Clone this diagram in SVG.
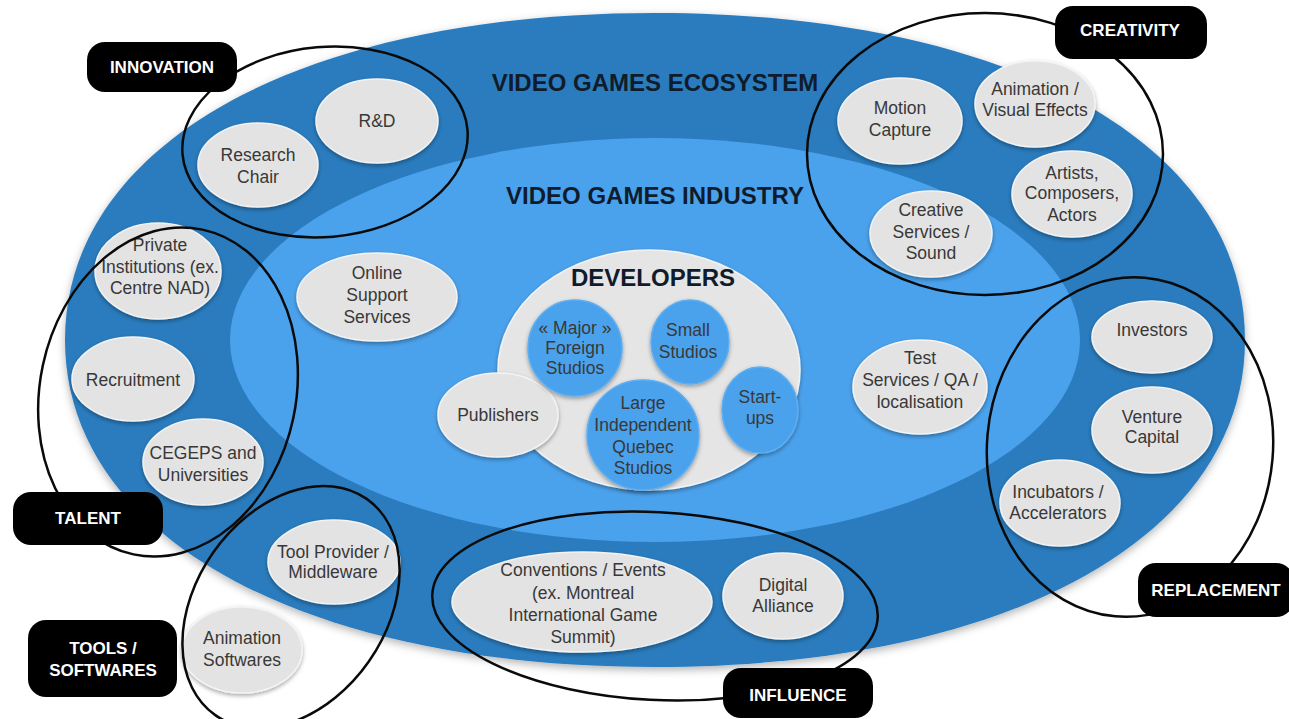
<svg xmlns="http://www.w3.org/2000/svg" width="1289" height="719" viewBox="0 0 1289 719">
<defs>
<filter id="sh" x="-20%" y="-20%" width="140%" height="150%"><feDropShadow dx="0" dy="2" stdDeviation="2" flood-color="#000" flood-opacity="0.35"/></filter>
<filter id="soft" x="-5%" y="-5%" width="110%" height="115%"><feDropShadow dx="0" dy="3" stdDeviation="4" flood-color="#000" flood-opacity="0.3"/></filter>
</defs>
<style>
.n{fill:#e3e3e3;stroke:#f3f3f3;stroke-width:1.5;filter:url(#sh)}
.b{fill:#4ba2ec;stroke:#5daef2;stroke-width:1.5;filter:url(#sh)}
.t{font-family:"Liberation Sans",Arial,sans-serif;font-size:17.5px;fill:#383838;text-anchor:middle}
.h{font-family:"Liberation Sans",Arial,sans-serif;font-weight:bold;font-size:24px;fill:#101c2c;text-anchor:middle}
.o{fill:none;stroke:#0a0a0a;stroke-width:2.5}
.lb{fill:#000}
.lt{font-family:"Liberation Sans",Arial,sans-serif;font-weight:bold;font-size:17px;fill:#fff;text-anchor:middle}
</style>
<rect width="1289" height="719" fill="#fff"/>

<g id="ecosystem">
<path d="M 1245,340 C 1245,536 1009,667 655,667 C 301,667 65,536 65,340 C 65,144 301,13 655,13 C 1009,13 1245,144 1245,340 Z" fill="#2b7cbe" filter="url(#soft)"/>
<text class="h" x="655" y="91">VIDEO GAMES ECOSYSTEM</text>
</g>
<g id="industry">
<ellipse cx="655" cy="340" rx="425" ry="202" fill="#4ba2ec"/>
<text class="h" x="655" y="204">VIDEO GAMES INDUSTRY</text>
</g>
<g id="developers">
<ellipse cx="649" cy="370" rx="151" ry="120" fill="#e5e5e5" stroke="#f3f3f3" stroke-width="1.5" filter="url(#sh)"/>
<text class="h" x="653" y="286">DEVELOPERS</text>
</g>

<g id="publishers"><ellipse class="n" cx="498" cy="415" rx="60" ry="42"/><text class="t" x="498" y="421">Publishers</text></g>
<g id="major-foreign"><ellipse class="b" cx="575" cy="348" rx="47" ry="48"/><text class="t" x="575" y="334">« Major »</text><text class="t" x="575" y="354">Foreign</text><text class="t" x="575" y="374">Studios</text></g>
<g id="small-studios"><ellipse class="b" cx="690" cy="342" rx="39" ry="42"/><text class="t" x="688" y="336">Small</text><text class="t" x="688" y="358">Studios</text></g>
<g id="large-independent"><ellipse class="b" cx="643" cy="435" rx="56" ry="55"/><text class="t" x="643" y="409">Large</text><text class="t" x="643" y="431">Independent</text><text class="t" x="643" y="453">Quebec</text><text class="t" x="643" y="474">Studios</text></g>
<g id="start-ups"><ellipse class="b" cx="760" cy="410" rx="38" ry="43"/><text class="t" x="760" y="403">Start-</text><text class="t" x="760" y="424">ups</text></g>

<g id="online-support"><ellipse class="n" cx="377" cy="297" rx="80" ry="44"/><text class="t" x="377" y="279">Online</text><text class="t" x="377" y="301">Support</text><text class="t" x="377" y="323">Services</text></g>
<g id="test-services"><ellipse class="n" cx="920" cy="387" rx="67" ry="47"/><text class="t" x="920" y="364">Test</text><text class="t" x="920" y="386">Services / QA /</text><text class="t" x="920" y="408">localisation</text></g>

<g id="rd"><ellipse class="n" cx="377" cy="121" rx="61" ry="42"/><text class="t" x="377" y="127">R&amp;D</text></g>
<g id="research-chair"><ellipse class="n" cx="258" cy="165" rx="60" ry="42"/><text class="t" x="258" y="161">Research</text><text class="t" x="258" y="183">Chair</text></g>
<g id="private-institutions"><ellipse class="n" cx="158" cy="271" rx="63" ry="48"/><text class="t" x="160" y="251">Private</text><text class="t" x="160" y="273">Institutions (ex.</text><text class="t" x="160" y="294">Centre NAD)</text></g>
<g id="recruitment"><ellipse class="n" cx="133" cy="379" rx="61" ry="42"/><text class="t" x="133" y="386">Recruitment</text></g>
<g id="cegeps"><ellipse class="n" cx="203" cy="462" rx="60" ry="43"/><text class="t" x="203" y="459">CEGEPS and</text><text class="t" x="203" y="481">Universities</text></g>
<g id="tool-provider"><ellipse class="n" cx="334" cy="562" rx="66" ry="42"/><text class="t" x="333" y="558">Tool Provider /</text><text class="t" x="333" y="578">Middleware</text></g>
<g id="animation-softwares"><ellipse class="n" cx="242" cy="650" rx="60" ry="43"/><text class="t" x="242" y="644">Animation</text><text class="t" x="242" y="666">Softwares</text></g>
<g id="conventions"><ellipse class="n" cx="582" cy="602" rx="130" ry="50"/><text class="t" x="583" y="576">Conventions / Events</text><text class="t" x="583" y="599">(ex. Montreal</text><text class="t" x="583" y="621">International Game</text><text class="t" x="583" y="643">Summit)</text></g>
<g id="digital-alliance"><ellipse class="n" cx="783" cy="596" rx="60" ry="43"/><text class="t" x="783" y="591">Digital</text><text class="t" x="783" y="612">Alliance</text></g>
<g id="investors"><ellipse class="n" cx="1152" cy="337" rx="60" ry="36"/><text class="t" x="1152" y="336">Investors</text></g>
<g id="venture-capital"><ellipse class="n" cx="1152" cy="430" rx="60" ry="43"/><text class="t" x="1152" y="423">Venture</text><text class="t" x="1152" y="443">Capital</text></g>
<g id="incubators"><ellipse class="n" cx="1060" cy="503" rx="60" ry="43"/><text class="t" x="1058" y="498">Incubators /</text><text class="t" x="1058" y="519">Accelerators</text></g>
<g id="motion-capture"><ellipse class="n" cx="900" cy="121" rx="62" ry="43"/><text class="t" x="900" y="114">Motion</text><text class="t" x="900" y="136">Capture</text></g>
<g id="animation-vfx"><ellipse class="n" cx="1035" cy="104" rx="60" ry="43"/><text class="t" x="1035" y="95">Animation /</text><text class="t" x="1035" y="116">Visual Effects</text></g>
<g id="artists"><ellipse class="n" cx="1072" cy="194" rx="60" ry="43"/><text class="t" x="1072" y="179">Artists,</text><text class="t" x="1072" y="199">Composers,</text><text class="t" x="1072" y="221">Actors</text></g>
<g id="creative-services"><ellipse class="n" cx="931" cy="234" rx="61" ry="43"/><text class="t" x="931" y="216">Creative</text><text class="t" x="931" y="238">Services /</text><text class="t" x="931" y="259">Sound</text></g>

<g id="connectors">
<ellipse class="o" cx="325" cy="142" rx="143" ry="95" transform="rotate(-5 325 142)"/>
<ellipse class="o" cx="985" cy="154" rx="178" ry="141"/>
<ellipse class="o" cx="168" cy="392" rx="128" ry="166" transform="rotate(12 168 392)"/>
<ellipse class="o" cx="291" cy="607" rx="95" ry="132" transform="rotate(35 291 607)"/>
<ellipse class="o" cx="655" cy="606" rx="223" ry="94" transform="rotate(3 655 606)"/>
<ellipse class="o" cx="1130" cy="447" rx="143" ry="170" transform="rotate(5 1130 447)"/>
</g>

<g id="label-innovation"><rect class="lb" x="87" y="42" width="150" height="50" rx="18"/><text class="lt" x="162" y="73">INNOVATION</text></g>
<g id="label-creativity"><rect class="lb" x="1055" y="6" width="152" height="53" rx="18"/><text class="lt" x="1130" y="36">CREATIVITY</text></g>
<g id="label-talent"><rect class="lb" x="13" y="492" width="150" height="53" rx="18"/><text class="lt" x="88" y="524">TALENT</text></g>
<g id="label-tools"><rect class="lb" x="28" y="620" width="149" height="77" rx="18"/><text class="lt" x="103" y="654">TOOLS /</text><text class="lt" x="103" y="676">SOFTWARES</text></g>
<g id="label-influence"><rect class="lb" x="723" y="668" width="150" height="50" rx="18"/><text class="lt" x="798" y="701">INFLUENCE</text></g>
<g id="label-replacement"><rect class="lb" x="1138" y="563" width="156" height="54" rx="18"/><text class="lt" x="1216" y="596">REPLACEMENT</text></g>
</svg>
